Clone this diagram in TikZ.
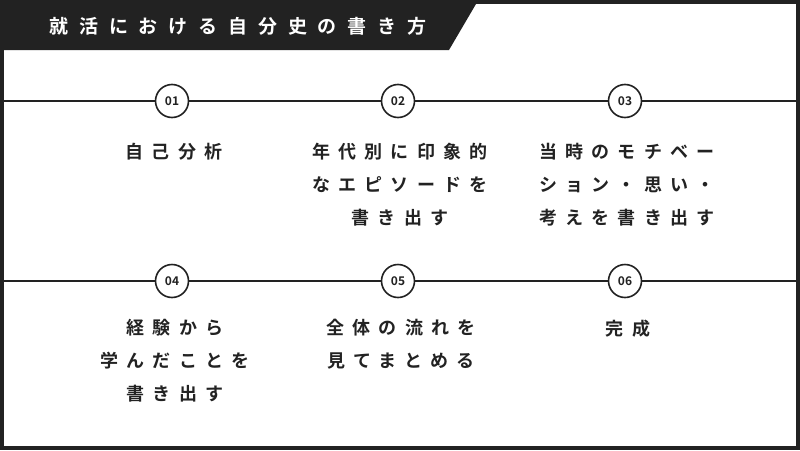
\documentclass[tikz,border=0pt]{standalone}
\usepackage{fontspec}
\newfontfamily\cjk{Noto Sans CJK JP}[BoldFont={Noto Sans CJK JP Bold}]
\definecolor{dk}{HTML}{222222}
\begin{document}
\begin{tikzpicture}[x=1pt,y=-1pt,
  num/.style={circle,draw=dk,line width=1.6pt,fill=white,minimum size=33pt,inner sep=0pt,font=\cjk\bfseries\fontsize{12}{12}\selectfont,text=dk},
  lbl/.style={anchor=north,align=center,text=dk,font=\cjk\bfseries\fontsize{18}{33}\selectfont\addfontfeatures{LetterSpace=45}},
  tl/.style={line width=1.3pt,draw=dk}]
\fill[dk] (0,0) rectangle (800,450);
\fill[white] (4,4) rectangle (796,446);
\fill[dk] (0,0) -- (476,0) -- (476,4) -- (449,50) -- (0,50) -- cycle;
\node[text=white,font=\cjk\bfseries\fontsize{19}{19}\selectfont\addfontfeatures{LetterSpace=57},anchor=center] (title) at (238,26) {就活における自分史の書き方};
\coordinate (l1a) at (4,101); \coordinate (l1b) at (796,101);
\coordinate (l2a) at (4,281); \coordinate (l2b) at (796,281);
\draw[tl] (l1a) -- (l1b);
\draw[tl] (l2a) -- (l2b);
\node[num] (n1) at (172,101) {01};
\node[num] (n2) at (398,101) {02};
\node[num] (n3) at (625,101) {03};
\node[num] (n4) at (172,281) {04};
\node[num] (n5) at (398,281) {05};
\node[num] (n6) at (625,281) {06};
\node[lbl] (t1) at (174,140) {自己分析};
\node[lbl] (t2) at (400,140) {年代別に印象的\\なエピソードを\\書き出す};
\node[lbl] (t3) at (627,140) {当時のモチベー\\ション・思い・\\考えを書き出す};
\node[lbl] (t4) at (175,316) {経験から\\学んだことを\\書き出す};
\node[lbl] (t5) at (401,316) {全体の流れを\\見てまとめる};
\node[lbl] (t6) at (628,316) {完成};
\end{tikzpicture}
\end{document}
